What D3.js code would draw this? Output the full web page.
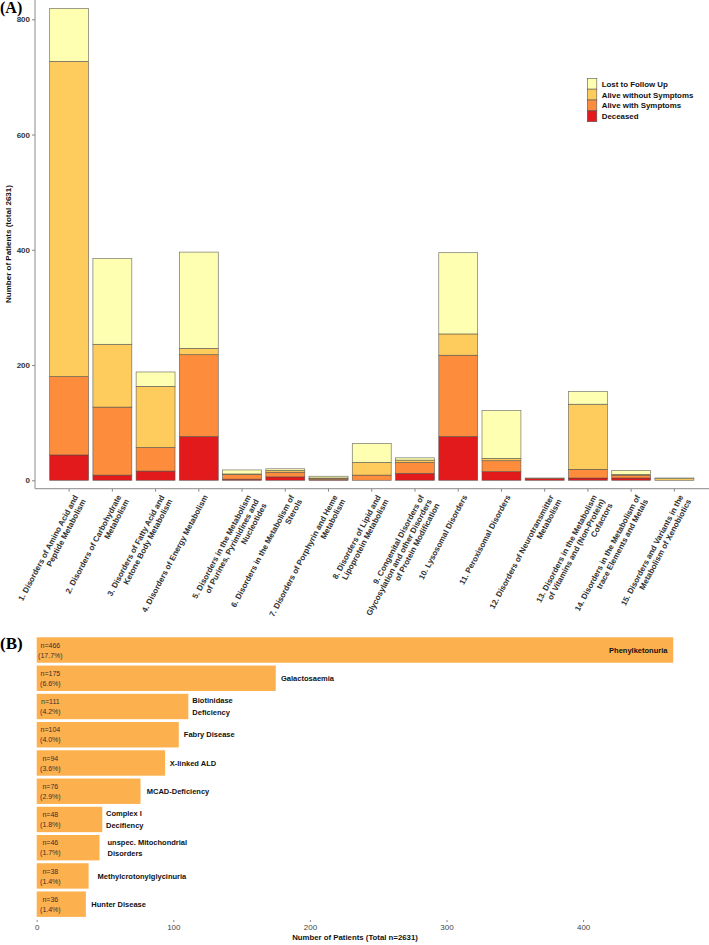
<!DOCTYPE html>
<html><head><meta charset="utf-8">
<script src="https://cdn.jsdelivr.net/npm/d3@7"></script>
<style>
body{margin:0;background:#fff}
svg{display:block;font-family:"Liberation Sans",Arial,sans-serif}
</style>
</head><body>
<svg id="c" width="709" height="945"></svg>
<script>
// ---------- Panel A data ----------
const categories = [
  "1. Disorders of Amino Acid and\nPeptide Metabolism",
  "2. Disorders of Carbohydrate\nMetabolism",
  "3. Disorders of Fatty Acid and\nKetone Body Metabolism",
  "4. Disorders of Energy Metabolism",
  "5. Disorders in the Metabolism\nof Purines, Pyrimidines and\nNucleotides",
  "6. Disorders in the Metabolism of\nSterols",
  "7. Disorders of Porphyrin and Heme\nMetabolism",
  "8. Disorders of Lipid and\nLipoprotein Metabolism",
  "9. Congenital Disorders of\nGlycosylation and other Disorders\nof Protein Modification",
  "10. Lysosomal Disorders",
  "11. Peroxisomal Disorders",
  "12. Disorders of Neurotransmitter\nMetabolism",
  "13. Disorders in the Metabolism\nof Vitamins and (Non-Protein)\nCofactors",
  "14. Disorders in the Metabolism of\ntrace Elements and Metals",
  "15. Disorders and Variants in the\nMetabolism of Xenobiotics"
];
const deceased     = [44,   9, 16,  76, 2, 6, 1,  0, 12,  76, 15, 3,   4, 4, 0];
const aliveWith    = [136, 118, 41, 142, 8, 8, 2,  9, 19, 141, 19, 1,  15, 5, 0];
const aliveWithout = [547, 109, 106, 11, 1, 3, 1, 22,  4,  37,  4, 0, 113, 1, 3];
const lostFollowUp = [92,  149, 25, 167, 7, 3, 3, 33,  4, 141, 83, 0,  22, 7, 1];
const seriesNames  = ["Deceased","Alive with Symptoms","Alive without Symptoms","Lost to Follow Up"];
const seriesColors = ["#E31A1C","#FD8D3C","#FECC5C","#FFFFB2"];
const yTicksA = [0,200,400,600,800];

// ---------- Panel B data ----------
const diseases = ["Phenylketonuria","Galactosaemia","Biotinidase\nDeficiency","Fabry Disease","X-linked ALD",
  "MCAD-Deficiency","Complex I\nDecifiency","unspec. Mitochondrial\nDisorders","Methylcrotonylglycinuria","Hunter Disease"];
const diseaseCounts = [466,175,111,104,94,76,48,46,38,36];
const diseasePercents = ["17.7%","6.6%","4.2%","4.0%","3.6%","2.9%","1.8%","1.7%","1.4%","1.4%"];
const xTicksB = [0,100,200,300,400];

const svg = d3.select("#c");

// ================= Panel A =================
const yA = d3.scaleLinear().domain([0,800]).range([480.3,19.3]);
const xA = d3.scaleBand().domain(d3.range(categories.length)).range([47.5,696]).paddingInner(0.1).paddingOuter(0.05);
const rows = categories.map((c,i)=>({i, s0:deceased[i], s1:aliveWith[i], s2:aliveWithout[i], s3:lostFollowUp[i]}));
const stack = d3.stack().keys(["s0","s1","s2","s3"])(rows);

const gA = svg.append("g");
stack.forEach((layer,k)=>{
  gA.append("g").selectAll("rect").data(layer).join("rect")
    .attr("x", d=>xA(d.data.i))
    .attr("width", xA.bandwidth())
    .attr("y", d=>yA(d[1]))
    .attr("height", d=>Math.max(0, yA(d[0])-yA(d[1])))
    .attr("fill", seriesColors[k])
    .attr("stroke", "#4a4a4a").attr("stroke-opacity", 0.75).attr("stroke-width", 0.7);
});

// axes A
const axisYA = d3.axisLeft(yA).tickValues(yTicksA).tickSize(3).tickPadding(2);
const gyA = svg.append("g").attr("transform","translate(35,0)").call(axisYA);
gyA.select(".domain").remove();
gyA.selectAll(".tick line").attr("stroke","#888");
gyA.selectAll(".tick text").attr("font-size",8).attr("font-weight","bold").attr("fill","#333")
  .attr("font-family","Liberation Sans, Arial, sans-serif");

const axisXA = d3.axisBottom(xA).tickSize(3).tickFormat("");
const gxA = svg.append("g").attr("transform","translate(0,488.7)").call(axisXA);
gxA.select(".domain").remove();
gxA.selectAll(".tick line").attr("stroke","#888");

svg.append("line").attr("x1",35).attr("x2",35).attr("y1",0).attr("y2",488.7).attr("stroke","#8a8a8a").attr("stroke-width",1);
svg.append("line").attr("x1",35).attr("x2",709).attr("y1",488.7).attr("y2",488.7).attr("stroke","#8a8a8a").attr("stroke-width",1);

// rotated category labels
const angle = -62;
categories.forEach((c,i)=>{
  const cx = xA(i) + xA.bandwidth()/2 + 4;
  const t = svg.append("text")
    .attr("transform",`translate(${cx},494) rotate(${angle})`)
    .attr("text-anchor","end").attr("font-size",8).attr("font-weight","bold").attr("fill","#333");
  c.split("\n").forEach((ln,j)=>{
    t.append("tspan").attr("x",0).attr("y", 6 + j*8.8).text(ln);
  });
});

// y title
svg.append("text").attr("transform","translate(11,244) rotate(-90)")
  .attr("text-anchor","middle").attr("font-size",8).attr("font-weight","bold").attr("fill","#111")
  .text("Number of Patients (total 2631)");

// legend
const legendOrder = [3,2,1,0];
const lg = svg.append("g").attr("transform","translate(587.3,78.3)");
legendOrder.forEach((k,j)=>{
  lg.append("rect").attr("x",0).attr("y",j*10.85).attr("width",9.5).attr("height",10.85)
    .attr("fill",seriesColors[k]).attr("stroke","#555").attr("stroke-width",0.6);
  lg.append("text").attr("x",14.4).attr("y",j*10.85+5.6).attr("dy","0.35em")
    .attr("font-size",7.9).attr("font-weight","bold").attr("fill","#111").text(seriesNames[k]);
});

// panel letters
svg.append("text").attr("x",0).attr("y",13).attr("font-family","Liberation Serif, Times New Roman, serif")
  .attr("font-size",16).attr("font-weight","bold").attr("fill","#000").text("(A)");
svg.append("text").attr("x",0).attr("y",649).attr("font-family","Liberation Serif, Times New Roman, serif")
  .attr("font-size",17).attr("font-weight","bold").attr("fill","#000").text("(B)");

// ================= Panel B =================
const xB = d3.scaleLinear().domain([0,400]).range([36.7,583.1]);
const yB = d3.scaleBand().domain(d3.range(diseases.length)).range([635.9,918.3]).paddingInner(0.1).paddingOuter(0.05);
const gB = svg.append("g");
gB.selectAll("rect").data(diseaseCounts).join("rect")
  .attr("x", xB(0)).attr("y",(d,i)=>yB(i)).attr("height",yB.bandwidth())
  .attr("width", d=>xB(d)-xB(0)).attr("fill","#FDB04E");

// n= / percent labels
diseaseCounts.forEach((d,i)=>{
  const cy = yB(i)+yB.bandwidth()/2;
  const t = gB.append("text").attr("text-anchor","middle").attr("font-size",7).attr("fill","#333");
  t.append("tspan").attr("x",xB(10)).attr("y",cy-4.7).attr("dy","0.35em").text("n="+d);
  t.append("tspan").attr("x",xB(10)).attr("y",cy+5.3).attr("dy","0.35em").text("("+diseasePercents[i]+")");
});

// disease names
diseases.forEach((name,i)=>{
  const cy = yB(i)+yB.bandwidth()/2;
  const lines = name.split("\n");
  const inside = i===0;
  const t = gB.append("text").attr("font-size",7.5).attr("font-weight","bold").attr("fill","#111")
    .attr("text-anchor", inside?"end":"start");
  const tsp = lines.map((ln,j)=>t.append("tspan").attr("y", cy + (j-(lines.length-1)/2)*11.3).attr("dy","0.35em").text(ln));
  let w = 0; tsp.forEach(s=>{ w = Math.max(w, s.node().getComputedTextLength()); });
  const x = inside ? xB(diseaseCounts[i]) - 0.1*w : xB(diseaseCounts[i]) + 0.1*w;
  tsp.forEach(s=>s.attr("x", x));
});

const axisXB = d3.axisBottom(xB).tickValues(xTicksB).tickSize(2).tickPadding(2);
const gxB = svg.append("g").attr("transform","translate(0,920)").call(axisXB);
gxB.select(".domain").remove();
gxB.selectAll(".tick line").attr("stroke","#888");
gxB.selectAll(".tick text").attr("font-size",8).attr("fill","#444").attr("font-family","Liberation Sans, Arial, sans-serif");

svg.append("text").attr("x",355).attr("y",939.5).attr("text-anchor","middle")
  .attr("font-size",7.8).attr("font-weight","bold").attr("fill","#111")
  .text("Number of Patients (Total n=2631)");
</script>
</body></html>
